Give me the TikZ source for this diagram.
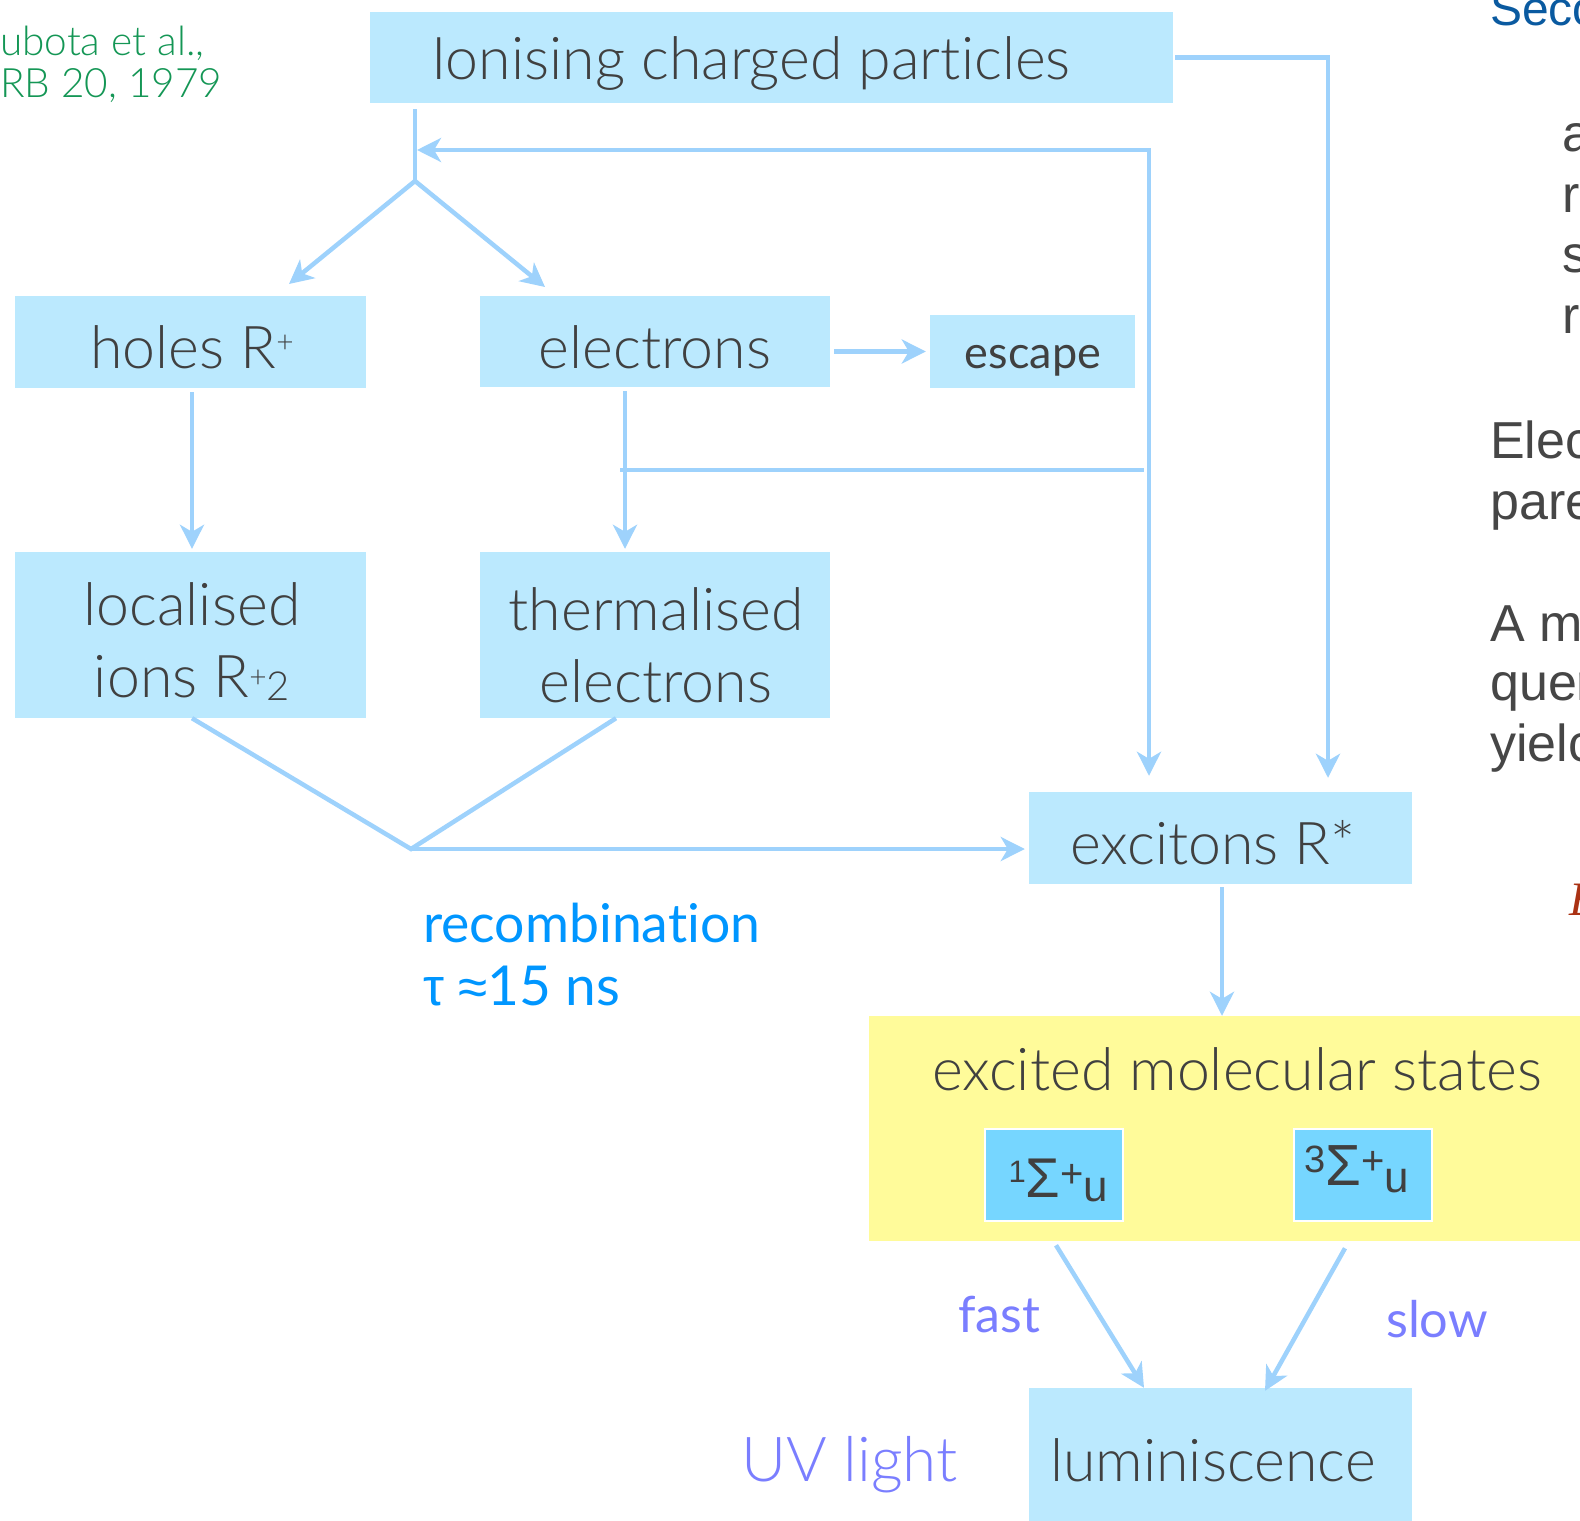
\documentclass[tikz,border=0pt]{standalone}
\usepackage{fontspec}
\IfFontExistsTF{Lato Light}{\setmainfont{Lato Light}[Ligatures=NoCommon]}{\setmainfont{Liberation Sans}}
\IfFontExistsTF{Lato}{\newfontfamily\regface{Lato}[Ligatures=NoCommon]}{\newfontfamily\regface{Liberation Sans}}
\newfontfamily\serifface{Liberation Serif}
\newfontfamily\symface{Liberation Sans}
\usetikzlibrary{arrows.meta,calc}

\definecolor{boxblue}{RGB}{187,233,254}
\definecolor{linkblue}{RGB}{158,210,252}
\definecolor{inkgray}{RGB}{64,64,64}
\definecolor{stateyellow}{RGB}{255,251,154}
\definecolor{statecyan}{RGB}{118,214,255}
\definecolor{recblue}{RGB}{0,150,255}
\definecolor{rateviolet}{RGB}{122,126,255}
\definecolor{refgreen}{RGB}{20,150,85}
\definecolor{headblue}{RGB}{10,90,160}
\definecolor{bodygray}{RGB}{70,70,70}
\definecolor{eqred}{RGB}{170,50,20}

\newcommand\setfs[1]{\fontsize{#1}{#1}\selectfont}

\begin{document}
\begin{tikzpicture}[x=1pt,y=-1pt,
  box/.style={fill=boxblue, draw=none, inner sep=0pt},
  statebox/.style={fill=statecyan, draw=white, line width=2.5pt, inner sep=0pt,
                   minimum width=138pt, minimum height=92pt},
  conn/.style={draw=linkblue, line width=4.5pt},
  tip/.tip={Stealth[length=24pt,width=24pt,inset=7pt]},
  arr/.style={conn, -tip},
  lbl/.style={inner sep=0pt, anchor=base, text=inkgray, font=\setfs{59}},
  note/.style={inner sep=0pt, anchor=base west},
  side/.style={note, text=bodygray, font={\symface\setfs{52}}},
]
\useasboundingbox (0,0) rectangle (1580,1521);
\clip (0,0) rectangle (1580,1521);

% ---------- boxes ----------
\node[box, minimum width=803pt, minimum height=91pt]  (ion)   at (771.5,57.5)  {};
\node[box, minimum width=351pt, minimum height=92pt]  (holes) at (190.5,342)   {};
\node[box, minimum width=350pt, minimum height=91pt]  (el)    at (655,341.5)   {};
\node[box, minimum width=205pt, minimum height=73pt]  (esc)   at (1032.5,351.5){};
\node[box, minimum width=351pt, minimum height=166pt] (loc)   at (190.5,635)   {};
\node[box, minimum width=350pt, minimum height=166pt] (th)    at (655,635)     {};
\node[box, minimum width=383pt, minimum height=92pt]  (exc)   at (1220.5,838)  {};
\node[fill=stateyellow, inner sep=0pt, minimum width=731pt, minimum height=225pt] (ems) at (1234.5,1128.5) {};
\node[statebox] (s1) at (1054,1175) {};
\node[statebox] (s3) at (1363,1175) {};
\node[box, minimum width=383pt, minimum height=152pt] (lum)   at (1220.5,1464) {};

% ---------- box texts ----------
\node[lbl] (ionT)   at (751,79)  {Ionising charged particles};
\node[lbl] (holesT) at (192,368) {holes R\raisebox{16pt}{\setfs{30}+}};
\node[lbl] (elT)    at (655,368) {electrons};
\node[lbl, font={\regface\setfs{45}}] (escT) at (1033,368) {escape};
\node[lbl] (locT1)  at (192,625) {localised};
\node[lbl] (locT2)  at (192,697) {ions R\raisebox{10pt}{\setfs{30}+}\raisebox{-3pt}{\setfs{40}2}};
\node[lbl] (thT1)   at (656,630) {thermalised};
\node[lbl] (thT2)   at (656,702) {electrons};
\node[lbl] (excT)   at (1213,864) {excitons R*};
\node[lbl] (emsT)   at (1237,1090) {excited molecular states};
\node[lbl, font={\symface\setfs{56}}] (s1T) at (1058.5,1197)
  {\raisebox{15pt}{\setfs{31}1}Σ\raisebox{10pt}{\setfs{40}+}\raisebox{-4pt}{\setfs{44}u}};
\node[lbl, font={\symface\setfs{58}}] (s3T) at (1357,1185)
  {\raisebox{13pt}{\setfs{38}3}Σ\raisebox{11pt}{\setfs{40}+}\raisebox{-7pt}{\setfs{44}u}};
\node[lbl] (lumT)   at (1213,1481) {luminiscence};

% ---------- connector bends ----------
\coordinate (split) at (415,181);
\coordinate (loopR) at (1149,150);
\coordinate (rx)    at (1328,57.5);
\coordinate (hTip)  at (289,284);
\coordinate (eTip)  at (545,287);
\coordinate (fbL)   at (620,470);
\coordinate (rec)   at (411,849);

% ---------- connectors ----------
\draw[conn] ([yshift=-6pt]split |- ion.south) -- (split);
\draw[arr] (split) -- (hTip);
\draw[arr] (split) -- (eTip);
\draw[conn, tip-tip, shorten <=2pt, shorten >=16pt]
  (split |- loopR) -- (loopR) -- (loopR |- exc.north);
\draw[arr, shorten >=14pt] ([xshift=2pt]ion.east) -- (rx) -- (rx |- exc.north);
\draw[arr] ([xshift=4pt]el.east |- esc.west) -- ([xshift=-4pt]esc.west);
\draw[arr] ([xshift=1.5pt,yshift=-4pt]holes.south) -- ([xshift=1.5pt,yshift=3pt]loc.north);
\draw[arr] ([xshift=-30pt,yshift=-4pt]el.south) -- ([xshift=-30pt,yshift=3pt]th.north);
\draw[conn] (fbL) -- ([xshift=-5pt]fbL -| loopR);
\draw[conn] ([xshift=1.5pt]loc.south) -- (rec) -- ([xshift=-39pt]th.south);
\draw[arr, shorten >=4pt] (rec) -- (exc.west |- rec);
\draw[arr] ([xshift=1.5pt,yshift=-3pt]exc.south) -- ([xshift=1.5pt]exc.south |- ems.north);
\draw[arr] ([xshift=2pt,yshift=-23pt]s1.south) -- ([xshift=-76.5pt]lum.north);
\draw[arr] ([xshift=-18pt,yshift=-26pt]s3.south) -- ([xshift=44.5pt,yshift=-3pt]lum.north);

% ---------- annotations ----------
\node[note, text=recblue, font={\regface\setfs{53.5}}] (recA) at (423,942)  {recombination};
\node[note, text=recblue, font={\regface\setfs{55}}] (recB) at (423,1005) {{\symface\setfs{53}τ ≈}15 ns};
\node[note, text=rateviolet, font={\regface\setfs{50}}] (fastT) at (958,1332) {fast};
\node[note, text=rateviolet, font={\regface\setfs{50.5}}] (slowT) at (1386,1337) {slow};
\node[note, text=rateviolet, font=\setfs{62}] (uvT) at (741,1481) {UV light};

\node[note, text=refgreen, font=\setfs{40.5}] (ref1) at (0,55) {ubota et al.,};
\node[note, text=refgreen, font=\setfs{40.5}] (ref2) at (0,97) {RB 20, 1979};

% ---------- neighbouring slide text ----------
\node[note, text=headblue, font={\symface\setfs{48}}] (sideH) at (1490,25) {Seco};
\node[side] (sideA) at (1562,151) {a};
\node[side] (sideB) at (1562,212) {r};
\node[side] (sideC) at (1562,272) {s};
\node[side] (sideD) at (1562,333) {r};
\node[side] (sideE) at (1490,458) {Elec};
\node[side] (sideF) at (1490,519) {pare};
\node[side] (sideG) at (1490,641) {A m};
\node[side] (sideI) at (1490,700) {quer};
\node[side] (sideJ) at (1490,761) {yielc};
\node[note, text=eqred, font={\serifface\itshape\setfs{48}}] (sideK) at (1569,915) {E};
\end{tikzpicture}
\end{document}
